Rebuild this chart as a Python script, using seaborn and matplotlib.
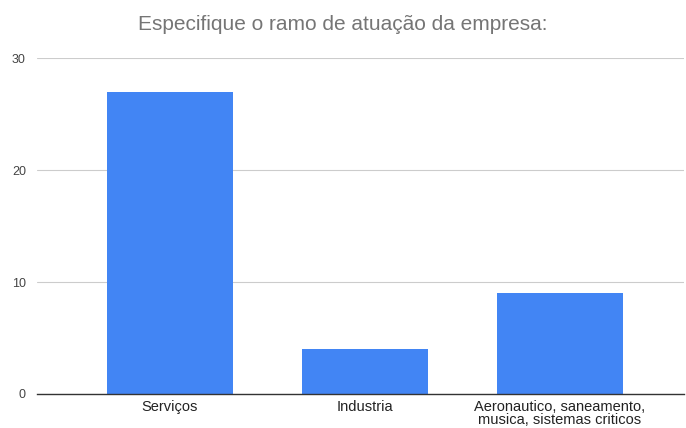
import matplotlib
matplotlib.use('Agg')
import matplotlib.pyplot as plt
import seaborn as sns
import pandas as pd

# dados
categorias = ['Serviços', 'Industria', 'Aeronautico, saneamento,\nmusica, sistemas criticos']
valores = [27, 4, 9]
y_ticks = [0, 10, 20, 30]

data = pd.DataFrame({'ramo': categorias, 'n': valores})

sns.set_style('white')
plt.rcParams['font.family'] = ['Liberation Sans', 'DejaVu Sans']

fig = plt.figure(figsize=(6.86, 4.28), dpi=100)
ax = fig.add_axes([37 / 686, 1 - 394 / 428, (684 - 37) / 686, (394 - 58) / 428])

sns.barplot(data=data, x='ramo', y='n', color='#4285f4', saturation=1, width=0.646,
            linewidth=0, ax=ax)

ax.set_xlim(-0.682, 2.636)
ax.set_ylim(0, 30)
ax.set_yticks(y_ticks)
ax.yaxis.grid(True, color='#cccccc', linewidth=0.8)
ax.set_axisbelow(True)
for s in ['top', 'right', 'left']:
    ax.spines[s].set_visible(False)
ax.spines['bottom'].set_color('#333333')
ax.spines['bottom'].set_linewidth(1)
ax.tick_params(axis='x', length=0, labelsize=10.5, colors='#222222', pad=4)
ax.tick_params(axis='y', length=0, labelsize=9, colors='#444444', pad=8)
ax.set_xlabel('')
ax.set_ylabel('')
for lbl in ax.get_xticklabels():
    lbl.set_linespacing(0.95)

fig.text(0.5, 1 - 24 / 428, 'Especifique o ramo de atuação da empresa:', ha='center', va='center',
         fontsize=15, color='#757575')

fig.savefig('out.png', dpi=100)
